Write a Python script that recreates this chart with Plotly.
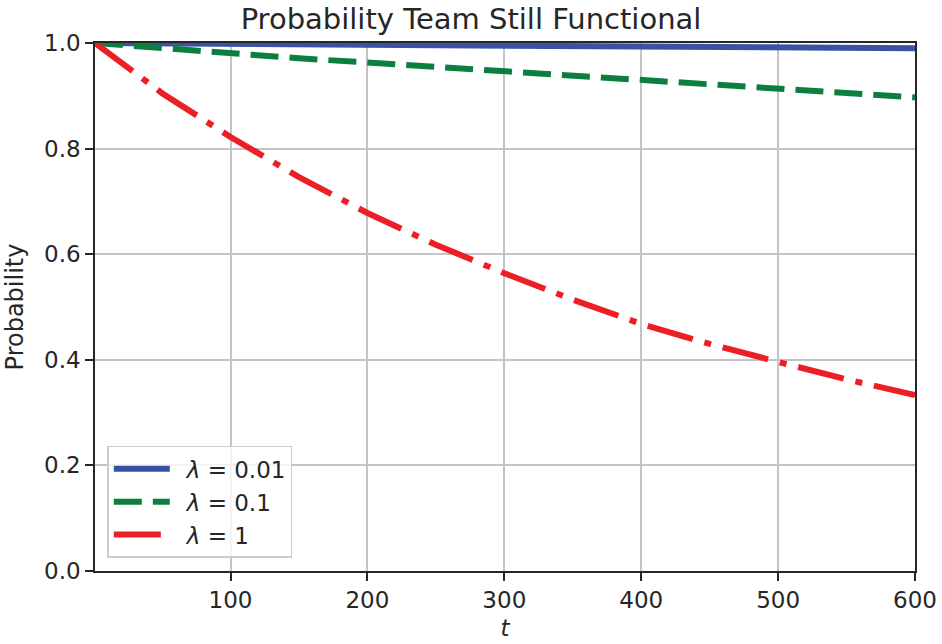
import plotly.graph_objects as go

# values
t = [1, 50, 100, 150, 200, 250, 300, 350, 400, 450, 500, 550, 600]
p_001 = [1.0, 0.999, 0.998, 0.998, 0.997, 0.996, 0.995, 0.995, 0.994, 0.993, 0.992, 0.991, 0.990]
p_01 = [1.0, 0.990, 0.980, 0.971, 0.963, 0.955, 0.947, 0.938, 0.930, 0.921, 0.913, 0.905, 0.897]
p_1 = [1.0, 0.905, 0.822, 0.746, 0.678, 0.618, 0.564, 0.514, 0.468, 0.430, 0.396, 0.363, 0.333]

labels = ["<i>λ</i> = 0.01", "<i>λ</i> = 0.1", "<i>λ</i> = 1"]
x_ticks = [100, 200, 300, 400, 500, 600]
y_ticks = [0.0, 0.2, 0.4, 0.6, 0.8, 1.0]

font = "DejaVu Sans"
ink = "#262626"

W, H = 942, 644

fig = go.Figure()
fig.add_trace(go.Scatter(x=t, y=p_001, mode="lines", name="\u00a0\u2009" + labels[0],
                         line=dict(color="#3953a4", width=6)))
fig.add_trace(go.Scatter(x=t, y=p_01, mode="lines", name="\u00a0\u2009" + labels[1],
                         line=dict(color="#0b7f3f", width=6, dash="28px,11px")))
fig.add_trace(go.Scatter(x=t, y=p_1, mode="lines", name="\u00a0\u2009" + labels[2],
                         line=dict(color="#ed1f26", width=6, dash="47px,12px,7px,12px")))

axis_common = dict(
    showline=True, linecolor=ink, linewidth=1.5, mirror=True,
    showgrid=True, gridcolor="#c4c4c4", gridwidth=1.5,
    ticks="outside", ticklen=8, tickwidth=1.5, tickcolor=ink,
    tickfont=dict(family=font, size=23, color=ink),
    zeroline=False, automargin=False,
)

fig.update_xaxes(range=[1, 600], tickvals=x_ticks,
                 title=dict(text="<i>t</i>", font=dict(family=font, size=23, color=ink), standoff=8),
                 **axis_common)
fig.update_yaxes(range=[0, 1], tickvals=y_ticks, tickformat=".1f",
                 title=dict(text="Probability", font=dict(family=font, size=24, color=ink), standoff=14),
                 **axis_common)

fig.update_layout(
    width=W, height=H,
    margin=dict(l=95, r=27, t=43, b=73),
    paper_bgcolor="white", plot_bgcolor="white",
    title=dict(text="Probability Team Still Functional", x=0.5, xanchor="center",
               y=1 - 19 / H, yanchor="middle", font=dict(family=font, size=29, color=ink)),
    legend=dict(x=0.015, y=0.025, xanchor="left", yanchor="bottom",
                bgcolor="rgba(255,255,255,0.8)", bordercolor="#cccccc", borderwidth=1.5,
                font=dict(family=font, size=23, color=ink), itemwidth=56,
                tracegroupgap=2),
    showlegend=True,
)

# drop the default page margin so the figure fills the window exactly
fig.write_html("out.html", config={"displayModeBar": False},
               post_script="document.body.style.margin = '0';")
